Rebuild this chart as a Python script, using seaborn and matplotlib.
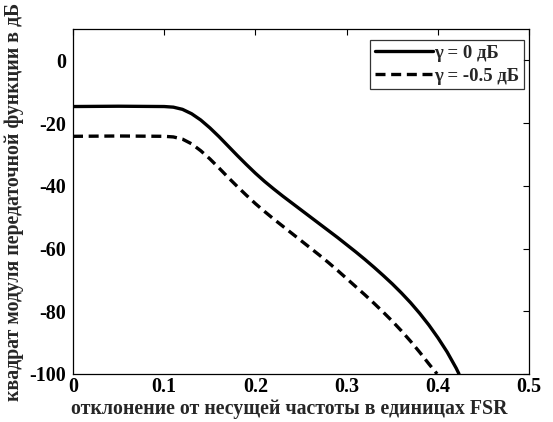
import numpy as np
import pandas as pd
import matplotlib
matplotlib.use("Agg")
import matplotlib.pyplot as plt
import seaborn as sns

# Data
x_solid = [0.00, 0.05, 0.10, 0.11, 0.12, 0.13, 0.14, 0.15, 0.16, 0.17, 0.18,
           0.19, 0.20, 0.21, 0.22, 0.23, 0.24, 0.25, 0.26, 0.27, 0.28, 0.29,
           0.30, 0.31, 0.32, 0.33, 0.34, 0.35, 0.36, 0.37, 0.38, 0.39, 0.40,
           0.41, 0.42, 0.423]
y_solid = [-14.7, -14.6, -14.7, -14.9, -15.6, -17.0, -19.0, -21.5, -24.3, -27.3,
           -30.3, -33.2, -36.0, -38.6, -41.0, -43.3, -45.5, -47.7, -49.9, -52.1,
           -54.3, -56.5, -58.8, -61.1, -63.5, -66.0, -68.6, -71.3, -74.2, -77.3,
           -80.7, -84.4, -88.5, -93.0, -98.2, -100.0]

x_dashed = [0.00, 0.05, 0.10, 0.11, 0.12, 0.13, 0.14, 0.15, 0.16, 0.17, 0.18,
            0.19, 0.20, 0.21, 0.22, 0.23, 0.24, 0.25, 0.26, 0.27, 0.28, 0.29,
            0.30, 0.31, 0.32, 0.33, 0.34, 0.35, 0.36, 0.37, 0.38, 0.39, 0.399]
y_dashed = [-24.2, -24.1, -24.2, -24.4, -25.1, -26.6, -28.8, -31.4, -34.3, -37.3,
            -40.2, -43.0, -45.7, -48.2, -50.6, -52.9, -55.2, -57.5, -59.8, -62.1,
            -64.5, -67.0, -69.6, -72.2, -74.8, -77.5, -80.3, -83.2, -86.3, -89.6,
            -93.1, -96.8, -100.0]

labels = ["γ = 0 дБ", "γ = -0.5 дБ"]
x_ticks = [0, 0.1, 0.2, 0.3, 0.4, 0.5]
x_ticklabels = ["0", "0.1", "0.2", "0.3", "0.4", "0.5"]
y_ticks = [-100, -80, -60, -40, -20, 0]
xlabel = "отклонение от несущей частоты в единицах FSR"
ylabel = "квадрат модуля передаточной функции в дБ"

sns.set_style("white")
plt.rcParams["font.family"] = ["Liberation Serif", "DejaVu Serif"]
plt.rcParams["font.weight"] = "bold"
plt.rcParams["axes.unicode_minus"] = False

df1 = pd.DataFrame({"x": x_solid, "y": y_solid})
df2 = pd.DataFrame({"x": x_dashed, "y": y_dashed})

fig = plt.figure(figsize=(5.53, 4.22), dpi=100)
ax = fig.add_axes([0.132, 0.114, 0.825, 0.817])

sns.lineplot(data=df1, x="x", y="y", ax=ax, color="black", linewidth=2.4,
             label=labels[0], sort=False)
sns.lineplot(data=df2, x="x", y="y", ax=ax, color="black", linewidth=2.4,
             label=labels[1], sort=False)
ax.lines[1].set_linestyle((0, (3.0, 1.7)))

ax.set_xlim(0, 0.5)
ax.set_ylim(-100, 10)
ax.set_xticks(x_ticks)
ax.set_xticklabels(x_ticklabels)
ax.set_yticks(y_ticks)
ax.tick_params(direction="in", length=4, width=0.8, top=True, right=True,
               labelsize=14.5, colors="black")
ax.tick_params(axis="x", pad=2)
ax.tick_params(axis="y", pad=5)
for lab in ax.get_xticklabels() + ax.get_yticklabels():
    lab.set_fontweight("bold")
for sp in ax.spines.values():
    sp.set_color("black")
    sp.set_linewidth(0.9)

ax.set_xlabel(xlabel, fontsize=14.3, fontweight="bold", labelpad=0)
ax.xaxis.set_label_coords(0.475, -0.074, transform=ax.transAxes)
ax.xaxis.label.set_verticalalignment("top")
ax.set_ylabel(ylabel, fontsize=14.3, fontweight="bold", labelpad=4)

leg = ax.legend(loc="upper right", bbox_to_anchor=(0.988, 0.968),
                frameon=True, fancybox=False,
                edgecolor="black", handlelength=3.1,
                handletextpad=0.05, borderaxespad=0.0, borderpad=0.25,
                labelspacing=0.3, prop={"weight": "bold", "size": 13.5})
leg.get_frame().set_linewidth(0.9)

fig.savefig("out.png", dpi=100, facecolor="white")
